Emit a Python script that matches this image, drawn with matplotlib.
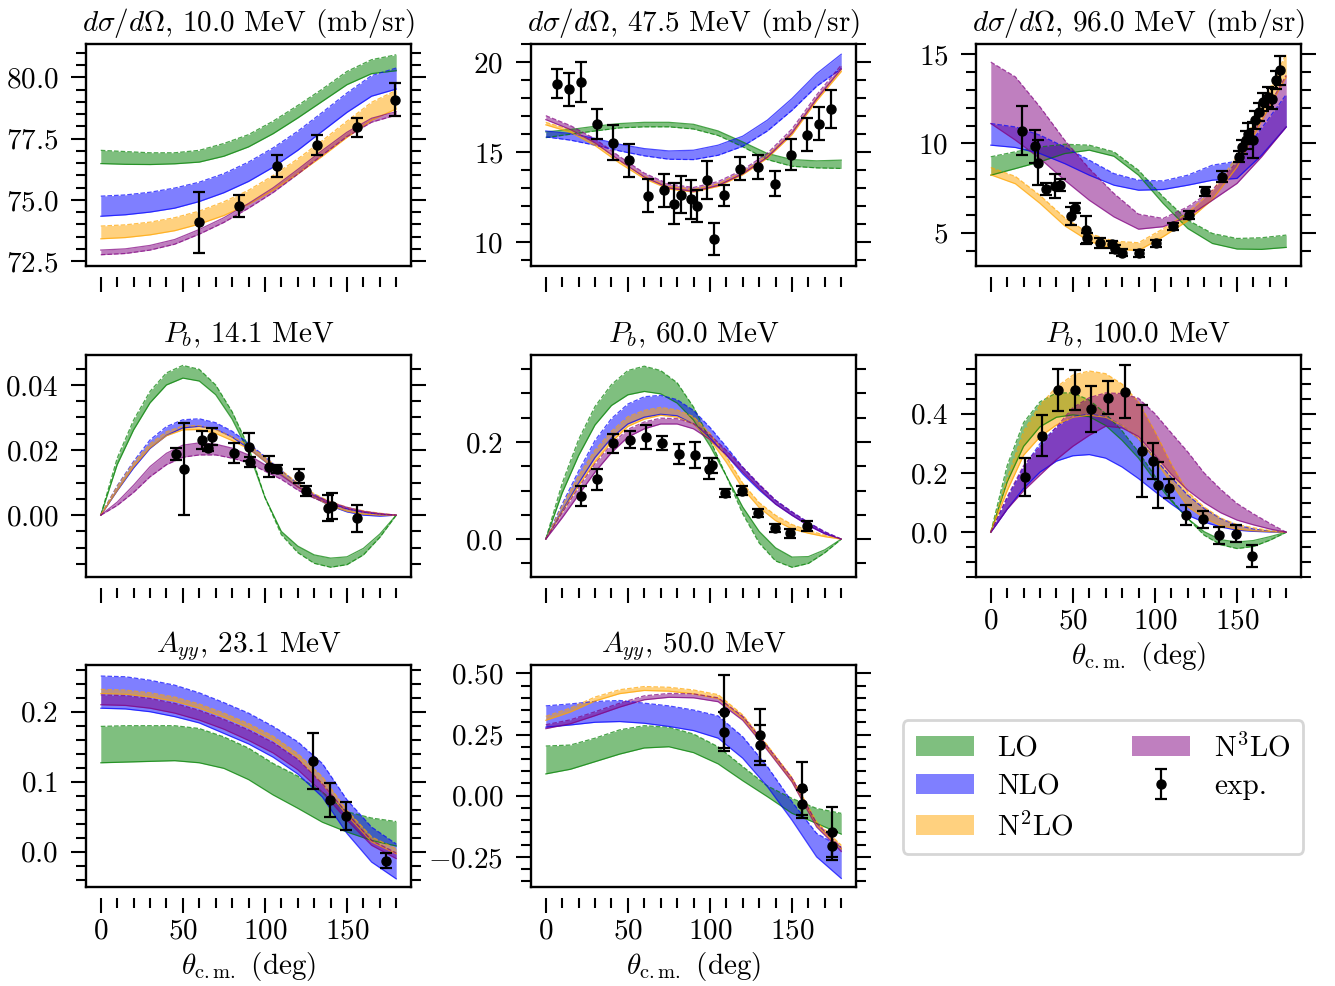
import matplotlib
matplotlib.use("Agg")
import matplotlib.pyplot as plt
from matplotlib.patches import Patch
from matplotlib.ticker import MultipleLocator

plt.rcParams['font.family'] = 'serif'
plt.rcParams['font.serif'] = ['cmr10']
plt.rcParams['mathtext.fontset'] = 'cm'
plt.rcParams['axes.formatter.use_mathtext'] = True
plt.rcParams['font.size'] = 21

theta = [0, 15, 30, 45, 60, 75, 90, 105, 120, 135, 150, 165, 180]
theta10 = [0, 10, 20, 30, 40, 50, 60, 70, 80, 90, 100, 110, 120, 130, 140, 150, 160, 170, 180]

# dsigma/dOmega, 10.0 MeV  (_d = dashed edge, _s = solid edge)
dsg10_LO_d = [77.02, 76.97, 76.92, 76.92, 77.02, 77.30, 77.66, 78.21, 78.85, 79.52, 80.24, 80.72, 80.92]
dsg10_LO_s = [76.48, 76.45, 76.44, 76.47, 76.54, 76.78, 77.16, 77.70, 78.34, 79.02, 79.70, 80.15, 80.27]
dsg10_NLO_d = [75.15, 75.20, 75.31, 75.48, 75.72, 76.07, 76.54, 77.12, 77.80, 78.57, 79.36, 80.07, 80.38]
dsg10_NLO_s = [74.33, 74.39, 74.50, 74.66, 74.93, 75.29, 75.75, 76.33, 77.02, 77.80, 78.57, 79.23, 79.52]
dsg10_N2LO_d = [73.93, 73.98, 74.09, 74.27, 74.54, 74.92, 75.39, 75.99, 76.67, 77.42, 78.21, 78.98, 79.47]
dsg10_N2LO_s = [73.41, 73.46, 73.57, 73.74, 74.01, 74.36, 74.82, 75.39, 76.06, 76.78, 77.55, 78.25, 78.71]
dsg10_N3LO_d = [72.76, 72.81, 72.95, 73.19, 73.60, 74.08, 74.66, 75.30, 76.05, 76.83, 77.58, 78.17, 78.46]
dsg10_N3LO_s = [72.95, 73.00, 73.14, 73.38, 73.79, 74.27, 74.85, 75.49, 76.24, 77.02, 77.76, 78.33, 78.60]
dsg10_exp_th = [60.0, 84.0, 107.3, 131.6, 155.8, 179.5]
dsg10_exp_v = [74.09, 74.74, 76.37, 77.23, 77.96, 79.09]
dsg10_exp_err = [1.25, 0.45, 0.44, 0.40, 0.38, 0.67]

# dsigma/dOmega, 47.5 MeV
dsg47_LO_s = [16.12, 16.25, 16.43, 16.58, 16.65, 16.65, 16.54, 16.17, 15.56, 14.92, 14.58, 14.51, 14.55]
dsg47_LO_d = [15.80, 15.99, 16.17, 16.34, 16.40, 16.40, 16.28, 15.92, 15.29, 14.58, 14.21, 14.12, 14.09]
dsg47_NLO_s = [16.17, 16.03, 15.75, 15.43, 15.19, 15.06, 15.10, 15.38, 15.88, 16.77, 17.97, 19.35, 20.43]
dsg47_NLO_d = [15.84, 15.66, 15.38, 15.06, 14.79, 14.60, 14.58, 14.82, 15.32, 16.17, 17.32, 18.65, 19.63]
dsg47_N2LO_d = [16.65, 16.24, 15.50, 14.52, 13.66, 13.08, 12.92, 13.23, 13.88, 14.80, 16.10, 17.98, 19.61]
dsg47_N2LO_s = [16.51, 16.10, 15.36, 14.38, 13.52, 12.94, 12.78, 13.09, 13.74, 14.66, 15.96, 17.84, 19.47]
dsg47_N3LO_d = [17.02, 16.47, 15.73, 14.75, 13.83, 13.22, 13.03, 13.36, 14.01, 14.93, 16.28, 18.17, 19.83]
dsg47_N3LO_s = [16.80, 16.25, 15.51, 14.53, 13.61, 13.00, 12.81, 13.14, 13.79, 14.71, 16.06, 17.95, 19.61]
dsg47_exp_th = [6.7, 14.1, 21.2, 31.3, 41.0, 50.8, 62.1, 72.2, 78.3, 82.3, 88.4, 92.2, 98.5, 102.3, 108.4,
                118.4, 129.5, 139.6, 149.7, 159.0, 166.7, 173.7]
dsg47_exp_v = [18.80, 18.48, 18.89, 16.54, 15.51, 14.55, 12.57, 12.88, 12.14, 12.64, 12.37, 12.01, 13.44, 10.15,
               12.59, 14.07, 14.18, 13.25, 14.86, 15.97, 16.58, 17.38]
dsg47_exp_err = [0.80, 0.92, 1.09, 0.83, 0.97, 0.92, 0.92, 0.91, 1.14, 1.04, 1.09, 0.88, 1.04, 0.89, 0.60,
                 0.63, 0.67, 0.69, 0.85, 0.92, 0.91, 1.06]

# dsigma/dOmega, 96.0 MeV
dsg96_LO_d = [9.25, 9.53, 9.80, 9.95, 9.90, 9.53, 8.50, 7.01, 5.71, 4.96, 4.68, 4.72, 4.87]
dsg96_LO_s = [8.22, 8.59, 8.97, 9.43, 9.62, 9.28, 8.22, 6.64, 5.24, 4.40, 4.09, 4.07, 4.18]
dsg96_NLO_d = [11.11, 10.92, 10.46, 9.80, 9.06, 8.31, 7.94, 7.90, 8.22, 8.78, 9.00, 10.85, 12.73]
dsg96_NLO_s = [9.90, 9.77, 9.43, 8.87, 8.22, 7.66, 7.38, 7.42, 7.66, 7.94, 8.04, 9.34, 10.92]
dsg96_N2LO_d = [8.65, 8.15, 7.09, 5.84, 4.96, 4.53, 4.44, 5.22, 6.12, 7.35, 9.26, 12.08, 15.02]
dsg96_N2LO_s = [8.24, 7.74, 6.64, 5.39, 4.52, 4.09, 4.00, 4.78, 5.67, 6.86, 8.67, 11.26, 13.72]
dsg96_N3LO_d = [14.55, 13.72, 12.04, 10.18, 8.59, 7.20, 6.04, 5.80, 6.45, 7.38, 8.97, 11.39, 13.81]
dsg96_N3LO_s = [11.11, 10.18, 9.15, 7.94, 6.82, 5.89, 5.20, 5.34, 5.89, 6.82, 7.76, 9.25, 10.92]
dsg96_exp_th = [19.3, 26.7, 28.7, 33.8, 39.3, 42.4, 49.1, 51.1, 58.2, 58.7, 66.8, 74.1, 75.6, 80.0, 90.2, 100.4,
                110.8, 120.6, 130.8, 140.9, 151.1, 153.0, 155.4, 157.0, 159.7, 161.1, 163.5, 165.6, 168.6,
                171.3, 173.9, 176.0]
dsg96_exp_v = [10.70, 9.84, 8.93, 7.44, 7.61, 7.66, 5.93, 6.40, 5.15, 4.68, 4.44, 4.35, 4.09, 3.88, 3.85, 4.40,
               5.37, 5.97, 7.33, 8.13, 9.25, 9.80, 10.18, 10.55, 10.18, 11.29, 11.76, 12.32, 12.60, 12.50,
               13.57, 14.09]
dsg96_exp_err = [1.37, 0.93, 1.27, 0.33, 0.67, 0.34, 0.51, 0.28, 0.80, 0.28, 0.28, 0.20, 0.20, 0.20, 0.20, 0.20,
                 0.20, 0.22, 0.25, 0.30, 0.30, 0.40, 0.50, 0.60, 1.00, 0.50, 0.50, 0.50, 0.55, 0.60, 0.50, 0.80]

# P_b, 14.1 MeV (10 deg grid)
pb14_LO_d = [0.0, 0.0175, 0.0292, 0.0380, 0.0437, 0.0460, 0.0448, 0.0400, 0.0318, 0.0210, 0.0055, -0.0060,
             -0.0115, -0.0148, -0.0160, -0.0152, -0.0122, -0.0068, 0.0]
pb14_LO_s = [0.0, 0.0155, 0.0262, 0.0345, 0.0400, 0.0421, 0.0412, 0.0370, 0.0295, 0.0195, 0.0055, -0.0050,
             -0.0095, -0.0122, -0.0132, -0.0128, -0.0102, -0.0058, 0.0]
pb14_NLO_d = [0.0, 0.0090, 0.0165, 0.0231, 0.0272, 0.0293, 0.0296, 0.0284, 0.0258, 0.0221, 0.0180, 0.0137,
              0.0097, 0.0064, 0.0038, 0.0020, 0.0009, 0.0003, 0.0]
pb14_NLO_s = [0.0, 0.0075, 0.0145, 0.0205, 0.0245, 0.0268, 0.0273, 0.0264, 0.0240, 0.0205, 0.0165, 0.0125,
              0.0087, 0.0054, 0.0028, 0.0010, 0.0000, -0.0003, 0.0]
pb14_N2LO_d = [0.0, 0.0088, 0.0161, 0.0219, 0.0256, 0.0274, 0.0275, 0.0263, 0.0241, 0.0216, 0.0178, 0.0138,
               0.0098, 0.0066, 0.0041, 0.0024, 0.0013, 0.0006, 0.0]
pb14_N2LO_s = [0.0, 0.0076, 0.0149, 0.0207, 0.0244, 0.0262, 0.0263, 0.0251, 0.0229, 0.0204, 0.0166, 0.0126,
               0.0086, 0.0054, 0.0029, 0.0012, 0.0003, 0.0000, 0.0]
pb14_N3LO_d = [0.0, 0.0030, 0.0070, 0.0118, 0.0155, 0.0178, 0.0185, 0.0185, 0.0175, 0.0161, 0.0135, 0.0110,
               0.0077, 0.0052, 0.0034, 0.0019, 0.0009, 0.0003, 0.0]
pb14_N3LO_s = [0.0, 0.0040, 0.0092, 0.0149, 0.0190, 0.0215, 0.0222, 0.0218, 0.0206, 0.0185, 0.0155, 0.0122,
               0.0087, 0.0060, 0.0040, 0.0024, 0.0012, 0.0005, 0.0]
pb14_exp_th = [45.8, 50.4, 61.5, 65.4, 68.0, 81.1, 90.4, 90.8, 102.5, 107.3, 121.0, 125.1, 138.6, 141.0, 156.4]
pb14_exp_v = [0.0188, 0.0141, 0.0231, 0.0207, 0.0241, 0.0190, 0.0210, 0.0164, 0.0149, 0.0142, 0.0120, 0.0075,
              0.0021, 0.0029, -0.0010]
pb14_exp_err = [0.0018, 0.0141, 0.0029, 0.0010, 0.0027, 0.0031, 0.0043, 0.0015, 0.0032, 0.0011, 0.0021, 0.0015,
                0.0040, 0.0040, 0.0041]

# P_b, 60.0 MeV (10 deg grid)
pb60_LO_d = [0.0, 0.115, 0.205, 0.273, 0.318, 0.347, 0.356, 0.347, 0.322, 0.272, 0.205, 0.130, 0.052, -0.008,
             -0.045, -0.058, -0.050, -0.028, 0.0]
pb60_LO_s = [0.0, 0.095, 0.172, 0.235, 0.275, 0.297, 0.304, 0.299, 0.280, 0.245, 0.192, 0.130, 0.066, 0.016,
             -0.018, -0.037, -0.036, -0.022, 0.0]
pb60_NLO_d = [0.0, 0.072, 0.140, 0.203, 0.248, 0.278, 0.293, 0.296, 0.287, 0.265, 0.230, 0.190, 0.148, 0.112,
              0.080, 0.056, 0.034, 0.015, 0.0]
pb60_NLO_s = [0.0, 0.058, 0.115, 0.168, 0.208, 0.237, 0.251, 0.257, 0.254, 0.237, 0.208, 0.173, 0.134, 0.101,
              0.072, 0.049, 0.028, 0.011, 0.0]
pb60_N2LO_d = [0.0, 0.068, 0.130, 0.183, 0.222, 0.252, 0.265, 0.271, 0.266, 0.252, 0.218, 0.170, 0.115, 0.075,
               0.049, 0.030, 0.018, 0.008, 0.0]
pb60_N2LO_s = [0.0, 0.056, 0.110, 0.159, 0.200, 0.232, 0.247, 0.255, 0.251, 0.237, 0.205, 0.158, 0.104, 0.065,
               0.038, 0.021, 0.012, 0.005, 0.0]
pb60_N3LO_d = [0.0, 0.054, 0.106, 0.155, 0.195, 0.226, 0.241, 0.249, 0.248, 0.238, 0.215, 0.183, 0.148, 0.113,
               0.080, 0.056, 0.034, 0.015, 0.0]
pb60_N3LO_s = [0.0, 0.044, 0.091, 0.138, 0.178, 0.210, 0.227, 0.237, 0.237, 0.227, 0.205, 0.173, 0.138, 0.104,
               0.072, 0.049, 0.028, 0.011, 0.0]
pb60_exp_th = [21.6, 31.3, 41.2, 51.3, 61.3, 71.0, 81.1, 91.2, 99.7, 101.3, 109.4, 119.5, 129.5, 139.6, 148.7, 159.2]
pb60_exp_v = [0.089, 0.123, 0.197, 0.205, 0.210, 0.198, 0.175, 0.173, 0.145, 0.152, 0.095, 0.100, 0.054, 0.023,
              0.012, 0.027]
pb60_exp_err = [0.021, 0.021, 0.019, 0.018, 0.025, 0.015, 0.020, 0.026, 0.022, 0.015, 0.009, 0.009, 0.009, 0.009,
                0.009, 0.011]

# P_b, 100.0 MeV (10 deg grid)
pb100_LO_d = [0.0, 0.225, 0.370, 0.440, 0.470, 0.470, 0.446, 0.400, 0.342, 0.271, 0.190, 0.110, 0.046, -0.010,
              -0.042, -0.055, -0.048, -0.027, 0.0]
pb100_LO_s = [0.0, 0.170, 0.290, 0.356, 0.388, 0.396, 0.390, 0.360, 0.310, 0.250, 0.175, 0.105, 0.046, 0.002,
              -0.025, -0.033, -0.028, -0.015, 0.0]
pb100_NLO_d = [0.0, 0.115, 0.220, 0.299, 0.355, 0.390, 0.398, 0.390, 0.360, 0.316, 0.249, 0.185, 0.125, 0.080,
               0.046, 0.024, 0.011, 0.004, 0.0]
pb100_NLO_s = [0.0, 0.078, 0.148, 0.203, 0.240, 0.258, 0.262, 0.250, 0.220, 0.181, 0.137, 0.095, 0.057, 0.034,
               0.018, 0.007, 0.003, 0.001, 0.0]
pb100_N2LO_d = [0.0, 0.180, 0.340, 0.429, 0.490, 0.530, 0.544, 0.535, 0.500, 0.440, 0.340, 0.230, 0.136, 0.085,
                0.048, 0.026, 0.015, 0.006, 0.0]
pb100_N2LO_s = [0.0, 0.140, 0.260, 0.322, 0.362, 0.388, 0.395, 0.388, 0.360, 0.316, 0.245, 0.165, 0.086, 0.048,
                0.022, 0.010, 0.005, 0.002, 0.0]
pb100_N3LO_d = [0.0, 0.120, 0.225, 0.289, 0.355, 0.420, 0.454, 0.470, 0.468, 0.452, 0.400, 0.335, 0.271, 0.200,
                0.145, 0.097, 0.062, 0.030, 0.0]
pb100_N3LO_s = [0.0, 0.078, 0.140, 0.193, 0.245, 0.290, 0.327, 0.358, 0.352, 0.323, 0.260, 0.195, 0.142, 0.100,
                0.066, 0.041, 0.025, 0.011, 0.0]
pb100_exp_th = [21.0, 31.2, 41.1, 51.1, 61.3, 71.5, 81.9, 92.1, 99.0, 101.6, 108.8, 118.9, 129.1, 139.3, 149.5, 159.3]
pb100_exp_v = [0.187, 0.325, 0.480, 0.480, 0.416, 0.454, 0.474, 0.275, 0.240, 0.159, 0.148, 0.057, 0.044, -0.010,
               -0.005, -0.080]
pb100_exp_err = [0.065, 0.069, 0.072, 0.068, 0.079, 0.056, 0.089, 0.155, 0.060, 0.078, 0.032, 0.034, 0.028, 0.028,
                 0.028, 0.037]

# A_yy, 23.1 MeV
ayy23_LO_d = [0.179, 0.180, 0.180, 0.180, 0.176, 0.164, 0.148, 0.126, 0.108, 0.085, 0.057, 0.048, 0.043]
ayy23_LO_s = [0.127, 0.128, 0.129, 0.130, 0.127, 0.119, 0.103, 0.081, 0.062, 0.042, 0.028, 0.016, 0.008]
ayy23_NLO_d = [0.251, 0.250, 0.245, 0.238, 0.227, 0.213, 0.198, 0.179, 0.157, 0.126, 0.074, 0.035, 0.011]
ayy23_NLO_s = [0.205, 0.204, 0.200, 0.193, 0.184, 0.169, 0.154, 0.135, 0.111, 0.078, 0.026, -0.015, -0.039]
ayy23_N2LO_d = [0.232, 0.231, 0.227, 0.221, 0.211, 0.198, 0.183, 0.165, 0.140, 0.107, 0.059, 0.021, 0.004]
ayy23_N2LO_s = [0.226, 0.225, 0.221, 0.215, 0.205, 0.192, 0.177, 0.159, 0.134, 0.097, 0.052, 0.014, -0.003]
ayy23_N3LO_d = [0.224, 0.223, 0.219, 0.212, 0.202, 0.189, 0.174, 0.156, 0.132, 0.097, 0.055, 0.016, -0.002]
ayy23_N3LO_s = [0.210, 0.209, 0.205, 0.198, 0.188, 0.175, 0.159, 0.141, 0.117, 0.085, 0.045, 0.009, -0.010]
ayy23_exp_th = [129.5, 139.6, 149.7, 173.5]
ayy23_exp_v = [0.130, 0.074, 0.051, -0.013]
ayy23_exp_err = [0.040, 0.024, 0.020, 0.011]

# A_yy, 50.0 MeV
ayy50_LO_d = [0.203, 0.207, 0.235, 0.269, 0.286, 0.280, 0.252, 0.200, 0.119, 0.040, -0.011, -0.052, -0.072]
ayy50_LO_s = [0.089, 0.108, 0.139, 0.170, 0.195, 0.200, 0.176, 0.130, 0.061, -0.004, -0.072, -0.113, -0.157]
ayy50_NLO_d = [0.367, 0.375, 0.385, 0.389, 0.378, 0.367, 0.350, 0.326, 0.241, 0.119, -0.025, -0.154, -0.211]
ayy50_NLO_s = [0.280, 0.289, 0.300, 0.303, 0.296, 0.283, 0.266, 0.235, 0.153, 0.037, -0.100, -0.250, -0.338]
ayy50_N2LO_d = [0.324, 0.358, 0.403, 0.433, 0.446, 0.443, 0.432, 0.413, 0.330, 0.206, 0.074, -0.107, -0.202]
ayy50_N2LO_s = [0.308, 0.342, 0.387, 0.417, 0.430, 0.427, 0.416, 0.397, 0.314, 0.190, 0.058, -0.123, -0.218]
ayy50_N3LO_d = [0.290, 0.310, 0.343, 0.378, 0.408, 0.418, 0.416, 0.400, 0.324, 0.202, 0.072, -0.112, -0.212]
ayy50_N3LO_s = [0.274, 0.294, 0.327, 0.362, 0.392, 0.402, 0.400, 0.384, 0.308, 0.186, 0.056, -0.128, -0.228]
ayy50_exp_th = [108.8, 108.6, 130.5, 130.5, 155.8, 156.4, 174.5, 174.5]
ayy50_exp_v = [0.344, 0.262, 0.248, 0.207, 0.030, -0.035, -0.147, -0.206]
ayy50_exp_err = [0.148, 0.080, 0.107, 0.080, 0.109, 0.058, 0.102, 0.058]

orders = ['LO', 'NLO', r'N$^2$LO', r'N$^3$LO']
colors = ['green', 'blue', 'orange', 'purple']

# row, col, title, angle grid, bands, exp, ylim, major, minor
panels = [
    (0, 0, r'$d\sigma/d\Omega$, 10.0 MeV (mb/sr)', theta,
     [(dsg10_LO_s, dsg10_LO_d), (dsg10_NLO_s, dsg10_NLO_d), (dsg10_N2LO_s, dsg10_N2LO_d), (dsg10_N3LO_s, dsg10_N3LO_d)],
     (dsg10_exp_th, dsg10_exp_v, dsg10_exp_err), (72.3, 81.36), 2.5, 0.5),
    (0, 1, r'$d\sigma/d\Omega$, 47.5 MeV (mb/sr)', theta,
     [(dsg47_LO_s, dsg47_LO_d), (dsg47_NLO_s, dsg47_NLO_d), (dsg47_N2LO_s, dsg47_N2LO_d), (dsg47_N3LO_s, dsg47_N3LO_d)],
     (dsg47_exp_th, dsg47_exp_v, dsg47_exp_err), (8.67, 21.0), 5, 1),
    (0, 2, r'$d\sigma/d\Omega$, 96.0 MeV (mb/sr)', theta,
     [(dsg96_LO_s, dsg96_LO_d), (dsg96_NLO_s, dsg96_NLO_d), (dsg96_N2LO_s, dsg96_N2LO_d), (dsg96_N3LO_s, dsg96_N3LO_d)],
     (dsg96_exp_th, dsg96_exp_v, dsg96_exp_err), (3.14, 15.56), 5, 1),
    (1, 0, r'$P_b$, 14.1 MeV', theta10,
     [(pb14_LO_s, pb14_LO_d), (pb14_NLO_s, pb14_NLO_d), (pb14_N2LO_s, pb14_N2LO_d), (pb14_N3LO_s, pb14_N3LO_d)],
     (pb14_exp_th, pb14_exp_v, pb14_exp_err), (-0.019, 0.0492), 0.02, 0.005),
    (1, 1, r'$P_b$, 60.0 MeV', theta10,
     [(pb60_LO_s, pb60_LO_d), (pb60_NLO_s, pb60_NLO_d), (pb60_N2LO_s, pb60_N2LO_d), (pb60_N3LO_s, pb60_N3LO_d)],
     (pb60_exp_th, pb60_exp_v, pb60_exp_err), (-0.078, 0.379), 0.2, 0.05),
    (1, 2, r'$P_b$, 100.0 MeV', theta10,
     [(pb100_LO_s, pb100_LO_d), (pb100_NLO_s, pb100_NLO_d), (pb100_N2LO_s, pb100_N2LO_d), (pb100_N3LO_s, pb100_N3LO_d)],
     (pb100_exp_th, pb100_exp_v, pb100_exp_err), (-0.151, 0.598), 0.2, 0.05),
    (2, 0, r'$A_{yy}$, 23.1 MeV', theta,
     [(ayy23_LO_s, ayy23_LO_d), (ayy23_NLO_s, ayy23_NLO_d), (ayy23_N2LO_s, ayy23_N2LO_d), (ayy23_N3LO_s, ayy23_N3LO_d)],
     (ayy23_exp_th, ayy23_exp_v, ayy23_exp_err), (-0.0506, 0.2668), 0.1, 0.02),
    (2, 1, r'$A_{yy}$, 50.0 MeV', theta,
     [(ayy50_LO_s, ayy50_LO_d), (ayy50_NLO_s, ayy50_NLO_d), (ayy50_N2LO_s, ayy50_N2LO_d), (ayy50_N3LO_s, ayy50_N3LO_d)],
     (ayy50_exp_th, ayy50_exp_v, ayy50_exp_err), (-0.373, 0.534), 0.25, 0.05),
]

W, H = 1335, 986
fig = plt.figure(figsize=(W / 100, H / 100), dpi=100)
lefts = [86, 531, 976]
tops = [44, 355, 665]
aw, ah = 325, 222

eb = None
for row, col, title, grid, bands, exp, ylim, major, minor in panels:
    ax = fig.add_axes([lefts[col] / W, 1 - (tops[row] + ah) / H, aw / W, ah / H])
    for (s, d), c in zip(bands, colors):
        ax.fill_between(grid, s, d, color=c, alpha=0.5, lw=0)
        ax.plot(grid, s, color=c, lw=0.9, alpha=0.7)
        ax.plot(grid, d, color=c, lw=0.9, alpha=0.7, ls='--')
    th, v, e = exp
    eb = ax.errorbar(th, v, yerr=e, fmt='o', color='k', ms=6.5, capsize=4,
                     elinewidth=1.6, capthick=1.6, zorder=5)

    ax.set_xlim(-9, 189)
    ax.set_ylim(*ylim)
    ax.xaxis.set_major_locator(MultipleLocator(50))
    ax.xaxis.set_minor_locator(MultipleLocator(10))
    ax.yaxis.set_major_locator(MultipleLocator(major))
    ax.yaxis.set_minor_locator(MultipleLocator(minor))
    ax.tick_params(which='both', direction='out', top=False, right=True, width=1.5)
    ax.tick_params(which='major', length=11)
    ax.tick_params(which='minor', length=7)
    ax.tick_params(axis='y', which='major', pad=9)
    ax.spines['bottom'].set_position(('outward', 8))
    ax.spines['bottom'].set_visible(False)
    ax.plot([0, 1], [0, 0], transform=ax.transAxes, color='k', lw=1.7, clip_on=False)
    for sp in ['top', 'left', 'right']:
        ax.spines[sp].set_linewidth(1.7)
    ax.set_title(title, pad=9, fontsize=21)
    if row == 2 or (row == 1 and col == 2):
        ax.set_xlabel(r'$\theta_\mathrm{c.m.}$ (deg)')
    else:
        ax.tick_params(labelbottom=False)

handles = [Patch(facecolor=c, alpha=0.5, edgecolor='none') for c in colors] + [eb]
labels = orders + ['exp.']
leg = fig.legend(handles, labels, ncol=2, loc='center', bbox_to_anchor=(1103 / W, 1 - 787 / H),
                 fontsize=21, frameon=True, fancybox=True, framealpha=1, edgecolor='#d6d6d6',
                 handlelength=2.0, handleheight=0.7, handletextpad=0.8, labelspacing=0.4,
                 columnspacing=2.0, borderpad=0.45)
leg.get_frame().set_linewidth(2)

fig.savefig('out.png', dpi=100)
